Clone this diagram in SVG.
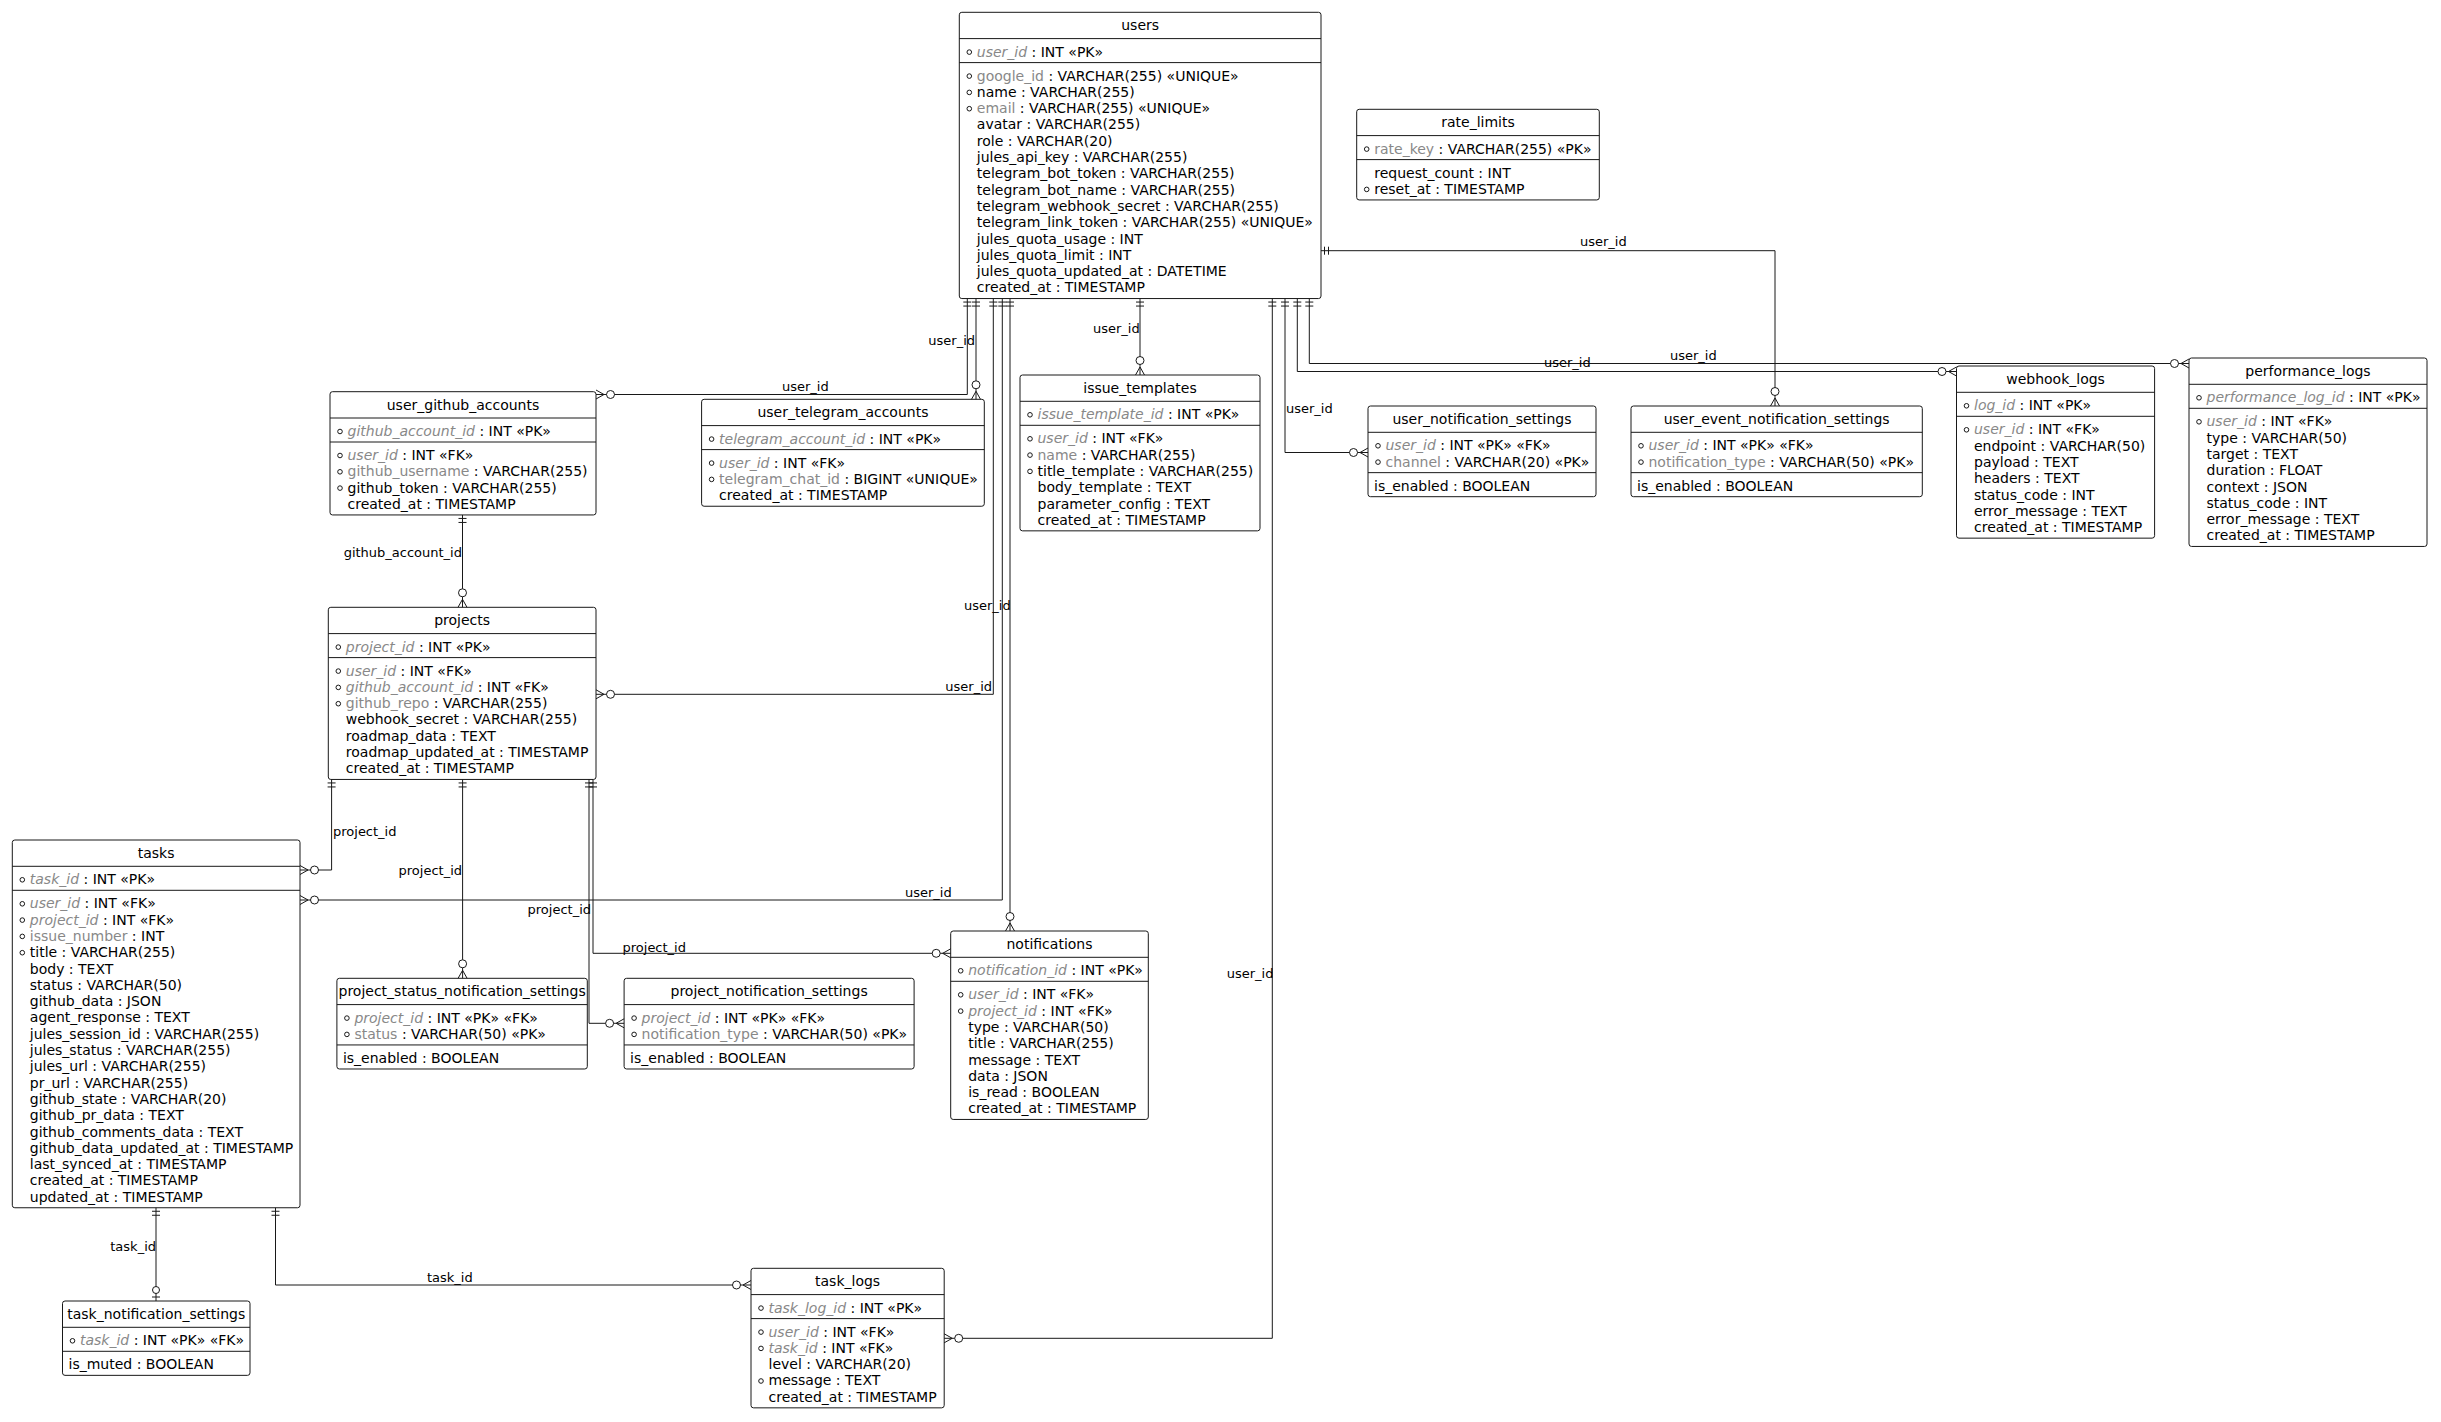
<svg xmlns="http://www.w3.org/2000/svg" width="2441" height="1422" viewBox="0 0 2441 1422">
<style>
.bg{fill:#fff}
.box{fill:#fff;stroke:#181818;stroke-width:1}
.sep{fill:none;stroke:#181818;stroke-width:1}
text{font-family:"DejaVu Sans","Liberation Sans",sans-serif;font-size:14px;fill:#000}
.t{text-anchor:middle}
.k{fill:#888888}
.i{font-style:italic}
.b{fill:none;stroke:#181818;stroke-width:1}
.c{fill:none;stroke:#181818;stroke-width:1;marker-start:url(#one);marker-end:url(#many)}
.lbl{font-size:13px}
.e{text-anchor:end}
</style>
<defs>
<marker id="one" viewBox="-12 -6 14 12" refX="0" refY="0" markerWidth="14" markerHeight="12" markerUnits="userSpaceOnUse" orient="auto-start-reverse" overflow="visible">
<path d="M-3.5,-4V4M-7.5,-4V4" fill="none" stroke="#181818"/>
</marker>
<marker id="many" viewBox="-20 -7 22 14" refX="0" refY="0" markerWidth="22" markerHeight="14" markerUnits="userSpaceOnUse" orient="auto" overflow="visible">
<path d="M0,-4.5L-8,0L0,4.5" fill="none" stroke="#181818"/>
<circle cx="-14.5" cy="0" r="4" fill="#fff" stroke="#181818"/>
</marker>
<marker id="zone" viewBox="-20 -7 22 14" refX="0" refY="0" markerWidth="22" markerHeight="14" markerUnits="userSpaceOnUse" orient="auto" overflow="visible">
<path d="M-4,-4V4" fill="none" stroke="#181818"/>
<circle cx="-11" cy="0" r="3.5" fill="#fff" stroke="#181818"/>
</marker>
</defs>
<rect class="bg" width="2441" height="1422"/>

<g id="users" transform="translate(959.3,12.3)">
<rect class="box" width="361.7" height="286.25" rx="2.5"/>
<text class="t" x="180.85" y="18">users</text>
<path class="sep" d="M0,26.3H361.7M0,50.3H361.7"/>
<circle class="b" cx="10" cy="39.8" r="2.3"/>
<text x="17.5" y="44.3"><tspan class="k i">user_id</tspan> : INT «PK»</text>
<circle class="b" cx="10" cy="63.8" r="2.3"/>
<text x="17.5" y="68.3"><tspan class="k">google_id</tspan> : VARCHAR(255) «UNIQUE»</text>
<circle class="b" cx="10" cy="80.1" r="2.3"/>
<text x="17.5" y="84.6">name : VARCHAR(255)</text>
<circle class="b" cx="10" cy="96.4" r="2.3"/>
<text x="17.5" y="100.9"><tspan class="k">email</tspan> : VARCHAR(255) «UNIQUE»</text>
<text x="17.5" y="117.2">avatar : VARCHAR(255)</text>
<text x="17.5" y="133.5">role : VARCHAR(20)</text>
<text x="17.5" y="149.8">jules_api_key : VARCHAR(255)</text>
<text x="17.5" y="166.1">telegram_bot_token : VARCHAR(255)</text>
<text x="17.5" y="182.4">telegram_bot_name : VARCHAR(255)</text>
<text x="17.5" y="198.7">telegram_webhook_secret : VARCHAR(255)</text>
<text x="17.5" y="215">telegram_link_token : VARCHAR(255) «UNIQUE»</text>
<text x="17.5" y="231.3">jules_quota_usage : INT</text>
<text x="17.5" y="247.6">jules_quota_limit : INT</text>
<text x="17.5" y="263.9">jules_quota_updated_at : DATETIME</text>
<text x="17.5" y="280.2">created_at : TIMESTAMP</text>
</g>

<g id="rate_limits" transform="translate(1356.7,109.3)">
<rect class="box" width="242.6" height="90.65" rx="2.5"/>
<text class="t" x="121.3" y="18">rate_limits</text>
<path class="sep" d="M0,26.3H242.6M0,50.3H242.6"/>
<circle class="b" cx="10" cy="39.8" r="2.3"/>
<text x="17.5" y="44.3"><tspan class="k">rate_key</tspan> : VARCHAR(255) «PK»</text>
<text x="17.5" y="68.3">request_count : INT</text>
<circle class="b" cx="10" cy="80.1" r="2.3"/>
<text x="17.5" y="84.6">reset_at : TIMESTAMP</text>
</g>

<g id="user_github_accounts" transform="translate(330,391.7)">
<rect class="box" width="266" height="123.25" rx="2.5"/>
<text class="t" x="133" y="18">user_github_accounts</text>
<path class="sep" d="M0,26.3H266M0,50.3H266"/>
<circle class="b" cx="10" cy="39.8" r="2.3"/>
<text x="17.5" y="44.3"><tspan class="k i">github_account_id</tspan> : INT «PK»</text>
<circle class="b" cx="10" cy="63.8" r="2.3"/>
<text x="17.5" y="68.3"><tspan class="k i">user_id</tspan> : INT «FK»</text>
<circle class="b" cx="10" cy="80.1" r="2.3"/>
<text x="17.5" y="84.6"><tspan class="k">github_username</tspan> : VARCHAR(255)</text>
<circle class="b" cx="10" cy="96.4" r="2.3"/>
<text x="17.5" y="100.9">github_token : VARCHAR(255)</text>
<text x="17.5" y="117.2">created_at : TIMESTAMP</text>
</g>

<g id="user_telegram_accounts" transform="translate(701.6,399.3)">
<rect class="box" width="282.7" height="106.95" rx="2.5"/>
<text class="t" x="141.35" y="18">user_telegram_accounts</text>
<path class="sep" d="M0,26.3H282.7M0,50.3H282.7"/>
<circle class="b" cx="10" cy="39.8" r="2.3"/>
<text x="17.5" y="44.3"><tspan class="k i">telegram_account_id</tspan> : INT «PK»</text>
<circle class="b" cx="10" cy="63.8" r="2.3"/>
<text x="17.5" y="68.3"><tspan class="k i">user_id</tspan> : INT «FK»</text>
<circle class="b" cx="10" cy="80.1" r="2.3"/>
<text x="17.5" y="84.6"><tspan class="k">telegram_chat_id</tspan> : BIGINT «UNIQUE»</text>
<text x="17.5" y="100.9">created_at : TIMESTAMP</text>
</g>

<g id="issue_templates" transform="translate(1020,375)">
<rect class="box" width="240" height="155.85" rx="2.5"/>
<text class="t" x="120" y="18">issue_templates</text>
<path class="sep" d="M0,26.3H240M0,50.3H240"/>
<circle class="b" cx="10" cy="39.8" r="2.3"/>
<text x="17.5" y="44.3"><tspan class="k i">issue_template_id</tspan> : INT «PK»</text>
<circle class="b" cx="10" cy="63.8" r="2.3"/>
<text x="17.5" y="68.3"><tspan class="k i">user_id</tspan> : INT «FK»</text>
<circle class="b" cx="10" cy="80.1" r="2.3"/>
<text x="17.5" y="84.6"><tspan class="k">name</tspan> : VARCHAR(255)</text>
<circle class="b" cx="10" cy="96.4" r="2.3"/>
<text x="17.5" y="100.9">title_template : VARCHAR(255)</text>
<text x="17.5" y="117.2">body_template : TEXT</text>
<text x="17.5" y="133.5">parameter_config : TEXT</text>
<text x="17.5" y="149.8">created_at : TIMESTAMP</text>
</g>

<g id="user_notification_settings" transform="translate(1368,406)">
<rect class="box" width="228" height="90.7" rx="2.5"/>
<text class="t" x="114" y="18">user_notification_settings</text>
<path class="sep" d="M0,26.3H228M0,66.65H228"/>
<circle class="b" cx="10" cy="39.8" r="2.3"/>
<text x="17.5" y="44.3"><tspan class="k i">user_id</tspan> : INT «PK» «FK»</text>
<circle class="b" cx="10" cy="56.1" r="2.3"/>
<text x="17.5" y="60.6"><tspan class="k">channel</tspan> : VARCHAR(20) «PK»</text>
<text x="6" y="84.65">is_enabled : BOOLEAN</text>
</g>

<g id="user_event_notification_settings" transform="translate(1631,406)">
<rect class="box" width="291.3" height="90.7" rx="2.5"/>
<text class="t" x="145.65" y="18">user_event_notification_settings</text>
<path class="sep" d="M0,26.3H291.3M0,66.65H291.3"/>
<circle class="b" cx="10" cy="39.8" r="2.3"/>
<text x="17.5" y="44.3"><tspan class="k i">user_id</tspan> : INT «PK» «FK»</text>
<circle class="b" cx="10" cy="56.1" r="2.3"/>
<text x="17.5" y="60.6"><tspan class="k">notification_type</tspan> : VARCHAR(50) «PK»</text>
<text x="6" y="84.65">is_enabled : BOOLEAN</text>
</g>

<g id="webhook_logs" transform="translate(1956.5,366)">
<rect class="box" width="198.1" height="172.15" rx="2.5"/>
<text class="t" x="99.05" y="18">webhook_logs</text>
<path class="sep" d="M0,26.3H198.1M0,50.3H198.1"/>
<circle class="b" cx="10" cy="39.8" r="2.3"/>
<text x="17.5" y="44.3"><tspan class="k i">log_id</tspan> : INT «PK»</text>
<circle class="b" cx="10" cy="63.8" r="2.3"/>
<text x="17.5" y="68.3"><tspan class="k i">user_id</tspan> : INT «FK»</text>
<text x="17.5" y="84.6">endpoint : VARCHAR(50)</text>
<text x="17.5" y="100.9">payload : TEXT</text>
<text x="17.5" y="117.2">headers : TEXT</text>
<text x="17.5" y="133.5">status_code : INT</text>
<text x="17.5" y="149.8">error_message : TEXT</text>
<text x="17.5" y="166.1">created_at : TIMESTAMP</text>
</g>

<g id="performance_logs" transform="translate(2189,358)">
<rect class="box" width="238" height="188.45" rx="2.5"/>
<text class="t" x="119" y="18">performance_logs</text>
<path class="sep" d="M0,26.3H238M0,50.3H238"/>
<circle class="b" cx="10" cy="39.8" r="2.3"/>
<text x="17.5" y="44.3"><tspan class="k i">performance_log_id</tspan> : INT «PK»</text>
<circle class="b" cx="10" cy="63.8" r="2.3"/>
<text x="17.5" y="68.3"><tspan class="k i">user_id</tspan> : INT «FK»</text>
<text x="17.5" y="84.6">type : VARCHAR(50)</text>
<text x="17.5" y="100.9">target : TEXT</text>
<text x="17.5" y="117.2">duration : FLOAT</text>
<text x="17.5" y="133.5">context : JSON</text>
<text x="17.5" y="149.8">status_code : INT</text>
<text x="17.5" y="166.1">error_message : TEXT</text>
<text x="17.5" y="182.4">created_at : TIMESTAMP</text>
</g>

<g id="projects" transform="translate(328.3,607.3)">
<rect class="box" width="267.7" height="172.15" rx="2.5"/>
<text class="t" x="133.85" y="18">projects</text>
<path class="sep" d="M0,26.3H267.7M0,50.3H267.7"/>
<circle class="b" cx="10" cy="39.8" r="2.3"/>
<text x="17.5" y="44.3"><tspan class="k i">project_id</tspan> : INT «PK»</text>
<circle class="b" cx="10" cy="63.8" r="2.3"/>
<text x="17.5" y="68.3"><tspan class="k i">user_id</tspan> : INT «FK»</text>
<circle class="b" cx="10" cy="80.1" r="2.3"/>
<text x="17.5" y="84.6"><tspan class="k i">github_account_id</tspan> : INT «FK»</text>
<circle class="b" cx="10" cy="96.4" r="2.3"/>
<text x="17.5" y="100.9"><tspan class="k">github_repo</tspan> : VARCHAR(255)</text>
<text x="17.5" y="117.2">webhook_secret : VARCHAR(255)</text>
<text x="17.5" y="133.5">roadmap_data : TEXT</text>
<text x="17.5" y="149.8">roadmap_updated_at : TIMESTAMP</text>
<text x="17.5" y="166.1">created_at : TIMESTAMP</text>
</g>

<g id="tasks" transform="translate(12.3,840)">
<rect class="box" width="287.7" height="367.75" rx="2.5"/>
<text class="t" x="143.85" y="18">tasks</text>
<path class="sep" d="M0,26.3H287.7M0,50.3H287.7"/>
<circle class="b" cx="10" cy="39.8" r="2.3"/>
<text x="17.5" y="44.3"><tspan class="k i">task_id</tspan> : INT «PK»</text>
<circle class="b" cx="10" cy="63.8" r="2.3"/>
<text x="17.5" y="68.3"><tspan class="k i">user_id</tspan> : INT «FK»</text>
<circle class="b" cx="10" cy="80.1" r="2.3"/>
<text x="17.5" y="84.6"><tspan class="k i">project_id</tspan> : INT «FK»</text>
<circle class="b" cx="10" cy="96.4" r="2.3"/>
<text x="17.5" y="100.9"><tspan class="k">issue_number</tspan> : INT</text>
<circle class="b" cx="10" cy="112.7" r="2.3"/>
<text x="17.5" y="117.2">title : VARCHAR(255)</text>
<text x="17.5" y="133.5">body : TEXT</text>
<text x="17.5" y="149.8">status : VARCHAR(50)</text>
<text x="17.5" y="166.1">github_data : JSON</text>
<text x="17.5" y="182.4">agent_response : TEXT</text>
<text x="17.5" y="198.7">jules_session_id : VARCHAR(255)</text>
<text x="17.5" y="215">jules_status : VARCHAR(255)</text>
<text x="17.5" y="231.3">jules_url : VARCHAR(255)</text>
<text x="17.5" y="247.6">pr_url : VARCHAR(255)</text>
<text x="17.5" y="263.9">github_state : VARCHAR(20)</text>
<text x="17.5" y="280.2">github_pr_data : TEXT</text>
<text x="17.5" y="296.5">github_comments_data : TEXT</text>
<text x="17.5" y="312.8">github_data_updated_at : TIMESTAMP</text>
<text x="17.5" y="329.1">last_synced_at : TIMESTAMP</text>
<text x="17.5" y="345.4">created_at : TIMESTAMP</text>
<text x="17.5" y="361.7">updated_at : TIMESTAMP</text>
</g>

<g id="notifications" transform="translate(950.7,931)">
<rect class="box" width="197.6" height="188.45" rx="2.5"/>
<text class="t" x="98.8" y="18">notifications</text>
<path class="sep" d="M0,26.3H197.6M0,50.3H197.6"/>
<circle class="b" cx="10" cy="39.8" r="2.3"/>
<text x="17.5" y="44.3"><tspan class="k i">notification_id</tspan> : INT «PK»</text>
<circle class="b" cx="10" cy="63.8" r="2.3"/>
<text x="17.5" y="68.3"><tspan class="k i">user_id</tspan> : INT «FK»</text>
<circle class="b" cx="10" cy="80.1" r="2.3"/>
<text x="17.5" y="84.6"><tspan class="k i">project_id</tspan> : INT «FK»</text>
<text x="17.5" y="100.9">type : VARCHAR(50)</text>
<text x="17.5" y="117.2">title : VARCHAR(255)</text>
<text x="17.5" y="133.5">message : TEXT</text>
<text x="17.5" y="149.8">data : JSON</text>
<text x="17.5" y="166.1">is_read : BOOLEAN</text>
<text x="17.5" y="182.4">created_at : TIMESTAMP</text>
</g>

<g id="project_status_notification_settings" transform="translate(336.9,978.3)">
<rect class="box" width="250.4" height="90.7" rx="2.5"/>
<text class="t" x="125.2" y="18">project_status_notification_settings</text>
<path class="sep" d="M0,26.3H250.4M0,66.65H250.4"/>
<circle class="b" cx="10" cy="39.8" r="2.3"/>
<text x="17.5" y="44.3"><tspan class="k i">project_id</tspan> : INT «PK» «FK»</text>
<circle class="b" cx="10" cy="56.1" r="2.3"/>
<text x="17.5" y="60.6"><tspan class="k">status</tspan> : VARCHAR(50) «PK»</text>
<text x="6" y="84.65">is_enabled : BOOLEAN</text>
</g>

<g id="project_notification_settings" transform="translate(624.1,978.3)">
<rect class="box" width="290" height="90.7" rx="2.5"/>
<text class="t" x="145" y="18">project_notification_settings</text>
<path class="sep" d="M0,26.3H290M0,66.65H290"/>
<circle class="b" cx="10" cy="39.8" r="2.3"/>
<text x="17.5" y="44.3"><tspan class="k i">project_id</tspan> : INT «PK» «FK»</text>
<circle class="b" cx="10" cy="56.1" r="2.3"/>
<text x="17.5" y="60.6"><tspan class="k">notification_type</tspan> : VARCHAR(50) «PK»</text>
<text x="6" y="84.65">is_enabled : BOOLEAN</text>
</g>

<g id="task_logs" transform="translate(751,1268.3)">
<rect class="box" width="193.2" height="139.55" rx="2.5"/>
<text class="t" x="96.6" y="18">task_logs</text>
<path class="sep" d="M0,26.3H193.2M0,50.3H193.2"/>
<circle class="b" cx="10" cy="39.8" r="2.3"/>
<text x="17.5" y="44.3"><tspan class="k i">task_log_id</tspan> : INT «PK»</text>
<circle class="b" cx="10" cy="63.8" r="2.3"/>
<text x="17.5" y="68.3"><tspan class="k i">user_id</tspan> : INT «FK»</text>
<circle class="b" cx="10" cy="80.1" r="2.3"/>
<text x="17.5" y="84.6"><tspan class="k i">task_id</tspan> : INT «FK»</text>
<text x="17.5" y="100.9">level : VARCHAR(20)</text>
<circle class="b" cx="10" cy="112.7" r="2.3"/>
<text x="17.5" y="117.2">message : TEXT</text>
<text x="17.5" y="133.5">created_at : TIMESTAMP</text>
</g>

<g id="task_notification_settings" transform="translate(62.5,1301)">
<rect class="box" width="187.5" height="74.35" rx="2.5"/>
<text class="t" x="93.75" y="18">task_notification_settings</text>
<path class="sep" d="M0,26.3H187.5M0,50.3H187.5"/>
<circle class="b" cx="10" cy="39.8" r="2.3"/>
<text x="17.5" y="44.3"><tspan class="k i">task_id</tspan> : INT «PK» «FK»</text>
<text x="6" y="68.3">is_muted : BOOLEAN</text>
</g>

<g id="connectors">
<path class="c" d="M967.3,298.55V394.5H596"/>
<path class="c" d="M976,298.55V399.3"/>
<path class="c" d="M993.3,298.55V694.3H596"/>
<path class="c" d="M1002.3,298.55V900H300"/>
<path class="c" d="M1010,298.55V931"/>
<path class="c" d="M1140,298.55V375"/>
<path class="c" d="M1272.3,298.55V1338.3H944.2"/>
<path class="c" d="M1285,298.55V452.5H1368"/>
<path class="c" d="M1297.3,298.55V371.5H1956.5"/>
<path class="c" d="M1309.3,298.55V363.5H2189"/>
<path class="c" d="M1321,250.7H1775V406"/>
<path class="c" d="M462.5,514.95V607.3"/>
<path class="c" d="M331.6,779.45V870H300"/>
<path class="c" d="M462.6,779.45V978.3"/>
<path class="c" d="M589,779.45V1023.3H624.1"/>
<path class="c" d="M593,779.45V953.3H950.7"/>
<path class="c" style="marker-end:url(#zone)" d="M156,1207.75V1301"/>
<path class="c" d="M275.5,1207.75V1285H751"/>
<text class="lbl" x="782" y="391">user_id</text>
<text class="lbl e" x="975" y="344.5">user_id</text>
<text class="lbl e" x="992" y="690.5">user_id</text>
<text class="lbl" x="905" y="896.5">user_id</text>
<text class="lbl" x="964" y="609.5">user_id</text>
<text class="lbl" x="1093" y="332.7">user_id</text>
<text class="lbl" x="1226.7" y="977.8">user_id</text>
<text class="lbl" x="1286" y="413">user_id</text>
<text class="lbl" x="1544" y="367">user_id</text>
<text class="lbl" x="1670" y="359.5">user_id</text>
<text class="lbl" x="1580" y="245.5">user_id</text>
<text class="lbl e" x="462" y="557">github_account_id</text>
<text class="lbl" x="333" y="835.5">project_id</text>
<text class="lbl e" x="462" y="874.5">project_id</text>
<text class="lbl e" x="591" y="913.5">project_id</text>
<text class="lbl" x="622.5" y="951.5">project_id</text>
<text class="lbl e" x="156" y="1251">task_id</text>
<text class="lbl" x="427" y="1281.8">task_id</text>
</g>
</svg>
